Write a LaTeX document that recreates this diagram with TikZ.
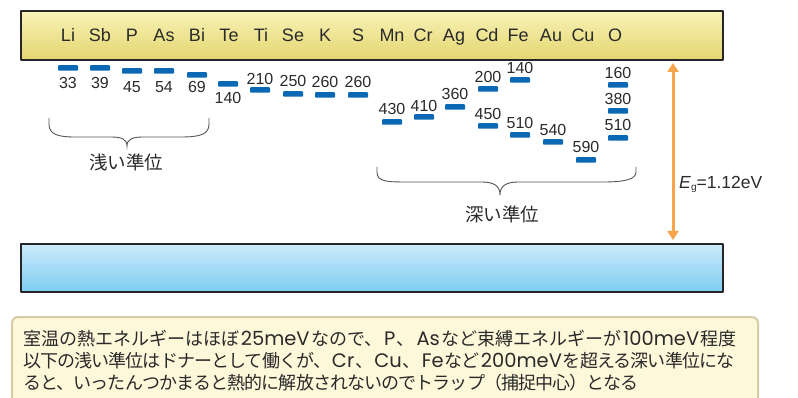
\documentclass[tikz,border=0pt]{standalone}
\usepackage{fontspec}
\setmainfont{Liberation Sans}
\newfontfamily\jp{Noto Sans CJK JP}
\newfontfamily\jpn[LetterSpace=-5]{Noto Sans CJK JP}
\newfontfamily\lat{Poppins}
\usetikzlibrary{arrows.meta}
\definecolor{barblue}{HTML}{0A68B4}
\definecolor{bandtop}{HTML}{F7F2B6}
\definecolor{bandbot}{HTML}{E4D670}
\definecolor{vbtop}{HTML}{CBEBF9}
\definecolor{vbbot}{HTML}{7ECDF2}
\definecolor{arroworange}{HTML}{F7A44C}
\definecolor{notefill}{HTML}{FEF8DA}
\definecolor{noteedge}{HTML}{D9CBA5}
\definecolor{txt}{HTML}{2A2A2A}
\definecolor{bracecol}{HTML}{555555}
\newcommand{\lt}[1]{\hspace{1pt}{\lat\fontsize{19.5}{19.5}\selectfont #1}\hspace{1pt}}
\newcommand{\ltw}[1]{\hspace{1.6pt}{\lat\fontsize{19.5}{19.5}\selectfont #1}\hspace{1.6pt}}
\begin{document}
\begin{tikzpicture}[x=1pt,y=-1pt,
  band/.style={draw=black!85, line width=2.4pt, line join=round},
  lvl/.style={fill=barblue, minimum width=20pt, minimum height=5.5pt, inner sep=0pt, rounded corners=0.8pt},
  elem/.style={anchor=base, font=\fontsize{18}{18}\selectfont, text=txt, inner sep=0pt},
  num/.style={anchor=base, font=\fontsize{16}{16}\selectfont, text=txt, inner sep=0pt},
  jplabel/.style={anchor=base, font=\jp\fontsize{18.5}{18.5}\selectfont, text=txt, inner sep=0pt},
  noteline/.style={anchor=base west, font=\jpn\fontsize{18}{18}\selectfont, text=txt, inner sep=0pt},
  notelinewide/.style={anchor=base west, font=\jp\fontsize{18}{18}\selectfont, text=txt, inner sep=0pt},
  bracepath/.style={draw=bracecol, line width=0.9pt},
  gaparrow/.style={draw=arroworange, line width=3pt, {Triangle[width=11pt,length=9pt]}-{Triangle[width=11pt,length=9pt]}}
]
\useasboundingbox (0,0) rectangle (798,398);

% conduction band
\path[band, top color=bandtop, bottom color=bandbot] (21,11) rectangle (723,60);
\node[inner sep=0pt] (cb) at (372,35.5) {};
% valence band
\path[band, top color=vbtop, bottom color=vbbot] (21,244) rectangle (723,292);
\node[inner sep=0pt] (vb) at (372,268) {};

% element labels
\foreach \name/\x in {Li/68,Sb/100,P/132,As/164,Bi/197,Te/229,Ti/261,Se/293,K/325,S/358,Mn/392,Cr/423,Ag/454,Cd/487,Fe/518,Au/551,Cu/583,O/615}
  \node[elem] (e-\name) at (\x,41.5) {\name};

% levels: name, bar x, bar y, value, label y (center)
\foreach \id/\x/\y/\v/\ly in {
  Li/68/68/33/83, Sb/100/68/39/83, P/132/71/45/87, As/164/71/54/87, Bi/197/75/69/87,
  Te/228/84/140/98, Ti/260/90/210/79, Se/293/94/250/81, K/325/95/260/82, S/358/95/260/82,
  Mn/392/122/430/109, Cr/424/117/410/106, Ag/455/107/360/94,
  Cda/488/89/200/77, Cdb/488/126/450/114,
  Fea/520/80/140/68, Feb/520/135/510/123,
  Au/553/142/540/130, Cu/586/160/590/147,
  Oa/618/85/160/73, Ob/618/111/380/99, Oc/618/138/510/125}
{
  \node[lvl] (l-\id) at (\x,\y) {};
  \node[num] (n-\id) at (\x,\ly+5.7) {\v};
}

% shallow brace
\coordinate (sb-l) at (49,118);
\coordinate (sb-r) at (209,118);
\coordinate (sb-t) at (127,146);
\draw[bracepath] (sb-l) -- ++(0,6) .. controls +(0,10) and (57,137) .. (75,137)
  -- (111,137) .. controls (121,137) and (127,139) .. (sb-t)
  .. controls (127,139) and (133,137) .. (143,137) -- (181,137)
  .. controls (201,137) and (209,134) .. (209,124) -- (sb-r);
\node[jplabel] (shallow) at (126,169.5) {浅い準位};

% deep brace
\coordinate (db-l) at (377,167);
\coordinate (db-r) at (636,167);
\coordinate (db-t) at (500,195);
\draw[bracepath] (db-l) -- ++(0,5) .. controls +(0,10) and (387,182) .. (410,182)
  -- (482,182) .. controls (494,182) and (500,186) .. (db-t)
  .. controls (500,186) and (506,182) .. (518,182) -- (603,182)
  .. controls (626,182) and (636,179) .. (636,172) -- (db-r);
\node[jplabel] (deep) at (502,222) {深い準位};

% band gap arrow
\coordinate (gtop) at (673,63);
\coordinate (gbot) at (673,240);
\draw[gaparrow] (gtop) -- (gbot);
\node[anchor=base west, inner sep=0pt, text=txt, font=\fontsize{17.5}{17.5}\selectfont] (eg) at (679,188.5)
  {\textit{E}\raisebox{-0.2ex}{\fontsize{10}{10}\selectfont g}=1.12eV};

% note box
\path[draw=noteedge, fill=notefill, line width=2pt, rounded corners=6pt] (12,317) rectangle (758,420);
\node[notelinewide] (t1) at (23,345) {室温の熱エネルギーはほぼ\ltw{25meV}なので、\ltw{P}、\ltw{As}など束縛エネルギーが\ltw{100meV}程度};
\node[noteline] (t2) at (23,367) {以下の浅い準位はドナーとして働くが、\lt{Cr}、\lt{Cu}、\lt{Fe}など\lt{200meV}を超える深い準位にな};
\node[noteline] (t3) at (23,389) {ると、いったんつかまると熱的に解放されないのでトラップ（捕捉中心）となる};
\end{tikzpicture}
\end{document}
